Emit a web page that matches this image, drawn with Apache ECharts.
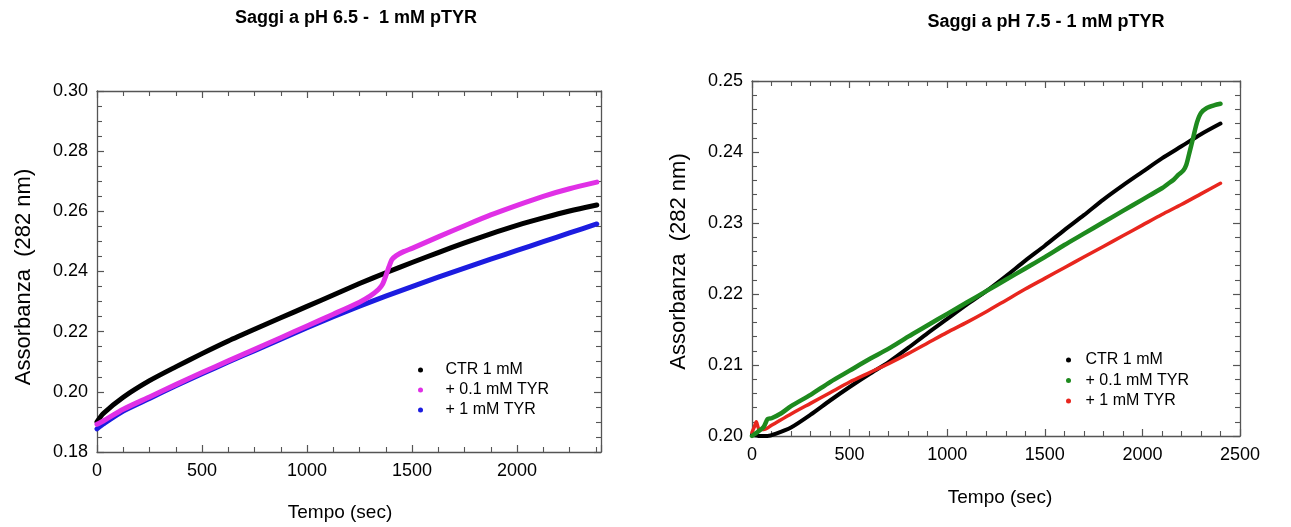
<!DOCTYPE html>
<html>
<head>
<meta charset="utf-8">
<script src="https://cdn.jsdelivr.net/npm/echarts@6/dist/echarts.min.js"></script>
<style>
html,body{margin:0;padding:0;background:#fff;}
#chart{width:1291px;height:527px;}
</style>
</head>
<body>
<div id="chart"></div>
<script>
// ---------- Titles / labels ----------
const titleLeft = 'Saggi a pH 6.5 -  1 mM pTYR';
const titleRight = 'Saggi a pH 7.5 - 1 mM pTYR';
const xName = 'Tempo (sec)';
const yName = 'Assorbanza  (282 nm)';
const legendNames = ['CTR 1 mM', '+ 0.1 mM TYR', '+ 1 mM TYR'];

// ---------- Left chart (pH 6.5) ----------
const leftCtrT = [0, 30, 125, 250, 375, 500, 625, 750, 875, 1000, 1125, 1250, 1375, 1500, 1625, 1750, 1875, 2000, 2125, 2250, 2380];
const leftCtrV = [0.1900, 0.1928, 0.1982, 0.2037, 0.2083, 0.2127, 0.2169, 0.2208, 0.2246, 0.2284, 0.2322, 0.2360, 0.2396, 0.2430, 0.2463, 0.2495, 0.2525, 0.2553, 0.2578, 0.2601, 0.2621];

const leftTyr01T = [0, 30, 125, 250, 375, 500, 625, 750, 875, 1000, 1125, 1250, 1300, 1340, 1360, 1375, 1390, 1405, 1425, 1460, 1500, 1625, 1750, 1875, 2000, 2125, 2250, 2380];
const leftTyr01V = [0.1892, 0.1903, 0.1942, 0.1983, 0.2024, 0.2064, 0.2103, 0.2141, 0.2180, 0.2219, 0.2258, 0.2298, 0.2318, 0.2340, 0.2358, 0.2385, 0.2415, 0.2440, 0.2453, 0.2466, 0.2477, 0.2515, 0.2552, 0.2588, 0.2620, 0.2650, 0.2675, 0.2697];

const leftTyr1T = [0, 30, 125, 250, 375, 500, 625, 750, 875, 1000, 1125, 1250, 1375, 1500, 1625, 1750, 1875, 2000, 2125, 2250, 2380];
const leftTyr1V = [0.1877, 0.1893, 0.1936, 0.1978, 0.2020, 0.2060, 0.2099, 0.2137, 0.2175, 0.2213, 0.2250, 0.2285, 0.2318, 0.2350, 0.2381, 0.2411, 0.2441, 0.2470, 0.2499, 0.2528, 0.2558];

// ---------- Right chart (pH 7.5) ----------
const rightCtrT = [0, 40, 80, 120, 200, 300, 400, 500, 600, 700, 800, 900, 1000, 1100, 1200, 1300, 1400, 1500, 1600, 1700, 1800, 1900, 2000, 2100, 2200, 2300, 2400];
const rightCtrV = [0.2002, 0.2000, 0.2000, 0.2003, 0.2012, 0.2030, 0.2050, 0.2069, 0.2087, 0.2104, 0.2124, 0.2145, 0.2165, 0.2185, 0.2204, 0.2225, 0.2247, 0.2268, 0.2290, 0.2311, 0.2333, 0.2353, 0.2372, 0.2391, 0.2408, 0.2425, 0.2440];

const rightTyr01T = [0, 30, 60, 80, 100, 150, 200, 300, 400, 500, 600, 700, 800, 900, 1000, 1100, 1200, 1300, 1400, 1500, 1600, 1700, 1800, 1900, 2000, 2100, 2130, 2160, 2185, 2210, 2225, 2240, 2260, 2280, 2300, 2330, 2370, 2400];
const rightTyr01V = [0.2000, 0.2006, 0.2013, 0.2024, 0.2025, 0.2032, 0.2042, 0.2058, 0.2076, 0.2092, 0.2108, 0.2123, 0.2140, 0.2156, 0.2172, 0.2188, 0.2204, 0.2220, 0.2236, 0.2252, 0.2269, 0.2285, 0.2301, 0.2317, 0.2333, 0.2349, 0.2355, 0.2361, 0.2368, 0.2374, 0.2382, 0.2398, 0.2420, 0.2442, 0.2455, 0.2462, 0.2466, 0.2468];

const rightTyr1T = [0, 12, 22, 35, 60, 100, 200, 300, 400, 500, 600, 700, 800, 900, 1000, 1100, 1200, 1300, 1400, 1500, 1600, 1700, 1800, 1900, 2000, 2100, 2200, 2300, 2400];
const rightTyr1V = [0.2005, 0.2013, 0.2020, 0.2010, 0.2009, 0.2015, 0.2031, 0.2046, 0.2061, 0.2076, 0.2089, 0.2102, 0.2116, 0.2131, 0.2146, 0.2160, 0.2175, 0.2191, 0.2207, 0.2222, 0.2237, 0.2252, 0.2267, 0.2282, 0.2297, 0.2312, 0.2326, 0.2341, 0.2356];

// ---------- Build ----------
const zip = (t, v) => t.map((x, i) => [x, v[i]]);
const FONT = '"Liberation Sans", Arial, sans-serif';
const AX = '#555';

function xAx(gi, max, minorSplit, isTop, gap, pad) {
  return {
    type: 'value', gridIndex: gi, position: isTop ? 'top' : 'bottom',
    min: 0, max: max, interval: 500,
    name: isTop ? '' : xName, nameLocation: 'middle', nameGap: gap || 0,
    nameTextStyle: {fontFamily: FONT, fontSize: 19, color: '#000', padding: pad || 0},
    axisLine: {show: true, onZero: false, lineStyle: {color: AX, width: 1.3}},
    axisTick: {show: true, inside: true, length: 7, lineStyle: {color: AX, width: 1.2}},
    minorTick: {show: true, splitNumber: minorSplit, length: 5, lineStyle: {color: AX, width: 1.1}},
    axisLabel: {show: !isTop, fontFamily: FONT, fontSize: 18, color: '#000', margin: 10,
      formatter: v => (v % 500 === 0 ? String(v) : '')},
    splitLine: {show: false}, minorSplitLine: {show: false}
  };
}
function yAx(gi, min, max, interval, minorSplit, isRight, pad) {
  return {
    type: 'value', gridIndex: gi, position: isRight ? 'right' : 'left',
    min: min, max: max, interval: interval,
    name: isRight ? '' : yName, nameLocation: 'middle', nameGap: isRight ? 0 : 62,
    nameRotate: 90,
    nameTextStyle: {fontFamily: FONT, fontSize: 22, color: '#000', padding: pad || 0},
    axisLine: {show: true, onZero: false, lineStyle: {color: AX, width: 1.3}},
    axisTick: {show: true, inside: true, length: 7, lineStyle: {color: AX, width: 1.2}},
    minorTick: {show: true, splitNumber: minorSplit, length: 5, lineStyle: {color: AX, width: 1.1}},
    axisLabel: {show: !isRight, fontFamily: FONT, fontSize: 18, color: '#000', margin: 9,
      formatter: v => v.toFixed(2)},
    splitLine: {show: false}, minorSplitLine: {show: false}
  };
}
function ser(id, xi, yi, t, v, color, w) {
  return {
    name: id, type: 'line', xAxisIndex: xi, yAxisIndex: yi,
    data: zip(t, v), showSymbol: false, symbol: 'circle', smooth: 0.25,
    lineStyle: {color: color, width: w, cap: 'round', join: 'round'},
    itemStyle: {color: color}, z: 3
  };
}
const labelMap = {L1: legendNames[0], L2: legendNames[1], L3: legendNames[2],
                  R1: legendNames[0], R2: legendNames[1], R3: legendNames[2]};

const option = {
  animation: false,
  backgroundColor: '#fff',
  graphic: [
    {type: 'text', x: 356, y: 18, style: {text: titleLeft, font: 'bold 18px ' + FONT, fill: '#000', textAlign: 'center', textVerticalAlign: 'middle'}},
    {type: 'text', x: 1046, y: 22, style: {text: titleRight, font: 'bold 18px ' + FONT, fill: '#000', textAlign: 'center', textVerticalAlign: 'middle'}}
  ],
  grid: [
    {left: 97, top: 91, width: 504, height: 361, containLabel: false},
    {left: 752, top: 81, width: 488, height: 355, containLabel: false}
  ],
  xAxis: [xAx(0, 2400, 4, false, 51, [0, 18, 0, 0]), xAx(0, 2400, 4, true),
          xAx(1, 2500, 5, false, 52, [0, 0, 0, 8]), xAx(1, 2500, 5, true)],
  yAxis: [yAx(0, 0.18, 0.30, 0.02, 4, false, [0, 11, 0, 0]), yAx(0, 0.18, 0.30, 0.02, 4, true),
          yAx(1, 0.20, 0.25, 0.01, 5, false, [0, 6, 0, 0]), yAx(1, 0.20, 0.25, 0.01, 5, true)],
  legend: [
    {data: ['L1', 'L2', 'L3'], orient: 'vertical', left: 418, top: 362, padding: 0,
     icon: 'circle', itemWidth: 40, itemHeight: 5, itemGap: 4,
     formatter: n => labelMap[n], selectedMode: false,
     textStyle: {fontFamily: FONT, fontSize: 16, color: '#000', lineHeight: 16}},
    {data: ['R1', 'R2', 'R3'], orient: 'vertical', left: 1066, top: 352, padding: 0,
     icon: 'circle', itemWidth: 24, itemHeight: 5, itemGap: 4.5,
     formatter: n => labelMap[n], selectedMode: false,
     textStyle: {fontFamily: FONT, fontSize: 16, color: '#000', lineHeight: 16}}
  ],
  series: [
    ser('L1', 0, 0, leftCtrT, leftCtrV, '#000000', 5),
    ser('L3', 0, 0, leftTyr1T, leftTyr1V, '#1c1ce0', 5),
    ser('L2', 0, 0, leftTyr01T, leftTyr01V, '#e030e6', 5),
    ser('R1', 2, 2, rightCtrT, rightCtrV, '#000000', 4),
    ser('R3', 2, 2, rightTyr1T, rightTyr1V, '#e8261e', 3.5),
    ser('R2', 2, 2, rightTyr01T, rightTyr01V, '#1e8a1e', 4.5)
  ]
};
const chart = echarts.init(document.getElementById('chart'), null, {renderer: 'canvas'});
chart.setOption(option);
</script>
</body>
</html>
